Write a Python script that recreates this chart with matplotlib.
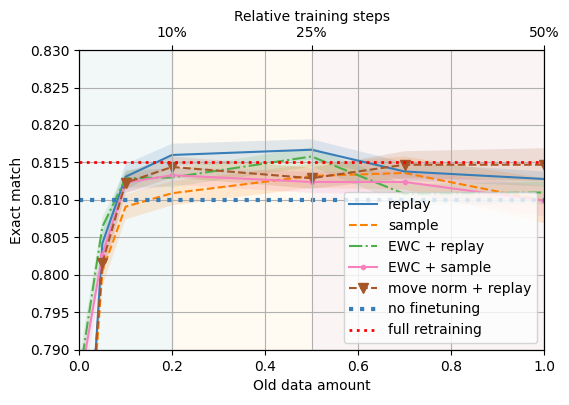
import numpy as np
import matplotlib
matplotlib.use("Agg")
import matplotlib.pyplot as plt

# old data fraction
xs = [0.0, 0.05, 0.1, 0.2, 0.5, 0.7, 1.0]

replay = [0.7540, 0.8042, 0.8131, 0.8160, 0.8167, 0.8138, 0.8128]
replay_sd = [0.0030, 0.0015, 0.0017, 0.0015, 0.0014, 0.0012, 0.0010]

sample = [0.7570, 0.8005, 0.8091, 0.8109, 0.8132, 0.8136, 0.8099]
sample_sd = [0.0030, 0.0020, 0.0017, 0.0016, 0.0016, 0.0022, 0.0030]

ewc_replay = [0.7862, 0.8064, 0.8129, 0.8130, 0.8158, 0.8108, 0.8110]
ewc_replay_sd = [0.0030, 0.0015, 0.0012, 0.0012, 0.0013, 0.0014, 0.0015]

ewc_sample = [0.7849, 0.8027, 0.8123, 0.8133, 0.8124, 0.8124, 0.8099]
ewc_sample_sd = [0.0030, 0.0018, 0.0012, 0.0012, 0.0014, 0.0016, 0.0020]

move_norm = [0.7604, 0.8016, 0.8123, 0.8144, 0.8129, 0.8147, 0.8147]
move_norm_sd = [0.0030, 0.0018, 0.0014, 0.0014, 0.0014, 0.0018, 0.0022]

no_finetune = 0.810
full_retrain = 0.815

top_ticks = [0.2, 0.5, 1.0]
top_labels = ['10%', '25%', '50%']

cb = ['#377eb8', '#ff7f00', '#4daf4a', '#f781bf', '#a65628']

fig, ax = plt.subplots(figsize=(5.69, 4.05), dpi=100)
fig.subplots_adjust(left=0.139, right=0.956, top=0.8765, bottom=0.136)

# shaded regions per training-step budget
ax.axvspan(0.0, 0.2, color='teal', alpha=0.05, lw=0)
ax.axvspan(0.2, 0.5, color='orange', alpha=0.05, lw=0)
ax.axvspan(0.5, 1.0, color='brown', alpha=0.05, lw=0)

series = [
  (replay, replay_sd, 'replay', dict(ls='-')),
  (sample, sample_sd, 'sample', dict(ls='--')),
  (ewc_replay, ewc_replay_sd, 'EWC + replay', dict(ls='-.')),
  (ewc_sample, ewc_sample_sd, 'EWC + sample', dict(ls='-', marker='.', markersize=6)),
  (move_norm, move_norm_sd, 'move norm + replay', dict(ls='--', marker='v', markersize=7)),
]
for (m, sd, lab, kw), c in zip(series, cb):
  m = np.array(m)
  sd = np.array(sd)
  ax.plot(xs, m, color=c, label=lab, lw=1.5, **kw)
  ax.fill_between(xs, m - sd, m + sd, color=c, alpha=0.15, lw=0)

ax.axhline(no_finetune, color=cb[0], ls=':', lw=3, label='no finetuning')
ax.axhline(full_retrain, color='red', ls=':', lw=2, label='full retraining')

ax.set_xlim(0, 1)
ax.set_ylim(0.790, 0.830)
ax.set_yticks(np.arange(0.790, 0.8301, 0.005))
ax.set_yticklabels([f'{v:.3f}' for v in np.arange(0.790, 0.8301, 0.005)])
ax.set_xlabel('Old data amount')
ax.set_ylabel('Exact match')
ax.grid(True)
ax.legend(loc='lower right')

ax2 = ax.twiny()
ax2.set_xlim(0, 1)
ax2.set_xticks(top_ticks)
ax2.set_xticklabels(top_labels)
ax2.set_xlabel('Relative training steps')
ax2.grid(True)

fig.savefig('out.png', dpi=100)
